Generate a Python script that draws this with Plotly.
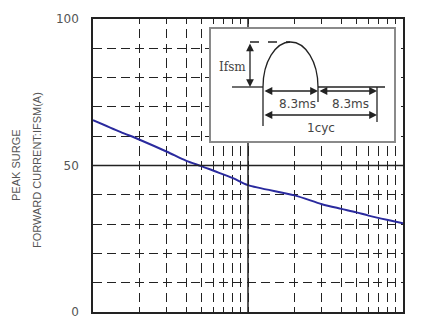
import plotly.graph_objects as go

# surge current vs number of cycles
cycles = [1, 1.5, 2, 3, 4, 5, 6, 8, 10, 20, 30, 40, 50, 60, 80, 100]
ifsm = [65.5, 61.5, 58.8, 54.7, 51.6, 49.8, 48.2, 45.7, 43.3, 39.8, 36.8, 35.2, 34, 32.9, 31.4, 30.3]

x_grid = [1, 2, 3, 4, 5, 6, 7, 8, 9, 10, 20, 30, 40, 50, 60, 70, 80, 90, 100]
y_grid = [0, 10, 20, 30, 40, 50, 60, 70, 80, 90, 100]
y_text = ['0', '', '', '', '', '50', '', '', '', '', '100']

W, H = 430, 321
L, T = 93, 19
PW, PH = 310, 293
R, B = W - L - PW, H - T - PH


def px(x):
    return (x - L) / PW


def py(y):
    return (T + PH - y) / PH


fig = go.Figure(go.Scatter(x=cycles, y=ifsm, mode='lines',
                           line=dict(color='#2a2a9e', width=2, shape='spline', smoothing=0.8),
                           showlegend=False))

shapes = [
    dict(type='line', xref='x', yref='paper', x0=10, x1=10, y0=0, y1=1,
         line=dict(color='#222', width=1.5)),
    dict(type='line', xref='paper', yref='y', x0=0, x1=1, y0=50, y1=50,
         line=dict(color='#222', width=1.5)),
    # inset box
    dict(type='rect', xref='paper', yref='paper', x0=px(210), x1=px(395), y0=py(142), y1=py(28),
         fillcolor='white', line=dict(color='#8a8a8a', width=2), layer='above'),
]

ink = dict(color='#222', width=1.3)


def seg(x0, y0, x1, y1, dash=None):
    ln = dict(ink)
    if dash:
        ln['dash'] = dash
    shapes.append(dict(type='line', xref='paper', yref='paper', x0=px(x0), y0=py(y0),
                       x1=px(x1), y1=py(y1), line=ln, layer='above'))


seg(232, 87, 263, 87)
seg(318, 87, 385, 87)
seg(250, 42, 290, 42, dash='dash')
seg(263, 87, 263, 126)
seg(318, 87, 318, 102)
seg(377, 87, 377, 122)

# half-sine arch
k = 0.5523
x0, x1, xb, yb, yt = 263, 318, 290.5, 87, 42
path = (f'M {px(x0)},{py(yb)} '
        f'C {px(x0)},{py(yb - k * (yb - yt))} {px(xb - k * (xb - x0))},{py(yt)} {px(xb)},{py(yt)} '
        f'C {px(xb + k * (x1 - xb))},{py(yt)} {px(x1)},{py(yb - k * (yb - yt))} {px(x1)},{py(yb)}')
shapes.append(dict(type='path', xref='paper', yref='paper', path=path,
                   line=ink, layer='above'))

annotations = []


def arrow(xa, ya, xb_, yb_):
    annotations.append(dict(xref='paper', yref='paper', x=px(xb_), y=py(yb_),
                            ax=xa - xb_, ay=ya - yb_, text='', showarrow=True,
                            arrowhead=2, arrowside='end+start', arrowsize=1.2,
                            arrowwidth=1.3, arrowcolor='#222'))


arrow(250, 42, 250, 87)
arrow(263, 91, 318, 91)
arrow(318, 91, 377, 91)
arrow(263, 115, 377, 115)


def label(txt, x, y, anchor='center', fam='DejaVu Sans', angle=0, size=12, color='#444'):
    annotations.append(dict(xref='paper', yref='paper', x=px(x), y=py(y), text=txt,
                            showarrow=False, xanchor=anchor, yanchor='middle', textangle=angle,
                            font=dict(family=fam, size=size, color=color)))


label('Ifsm', 248, 67, anchor='right', fam='DejaVu Serif')
label('8.3ms', 297, 104)
label('8.3ms', 350, 104)
label('1cyc', 321, 128)

label('PEAK SURGE', 16, 165, angle=-90, fam='Liberation Sans', size=11, color='#555')
label('FORWARD CURRENT:IFSM(A)', 37, 170, angle=-90, fam='Liberation Sans', size=11, color='#555')

fig.update_layout(
    width=W, height=H, margin=dict(l=L, r=R, t=T, b=B, autoexpand=False),
    paper_bgcolor='white', plot_bgcolor='white',
    shapes=shapes, annotations=annotations,
    xaxis=dict(type='log', range=[0, 2], tickvals=x_grid, showticklabels=False,
               ticks='', showgrid=True, gridcolor='#222', gridwidth=1.3,
               griddash='4.8px,5.05px,4.8px,0px', showline=True, mirror=True,
               linecolor='#222', linewidth=1.5, zeroline=False, automargin=False),
    yaxis=dict(range=[0, 100], tickvals=y_grid, ticktext=y_text, ticks='',
               ticklabelstandoff=10, showgrid=True, gridcolor='#222', gridwidth=1.3,
               griddash='9px,5px', showline=True, mirror=True,
               linecolor='#222', linewidth=1.5, zeroline=False, automargin=False,
               tickfont=dict(family='DejaVu Sans', size=12, color='#555')),
)

# pin the figure to the window's corner (no page margin, no scrolling)
pin = ("document.body.style.margin='0';"
       "var d=document.getElementsByClassName('plotly-graph-div')[0];"
       "d.style.position='fixed';d.style.left='0';d.style.top='0';")
fig.write_html('out.html', config={'displayModeBar': False}, post_script=pin)
